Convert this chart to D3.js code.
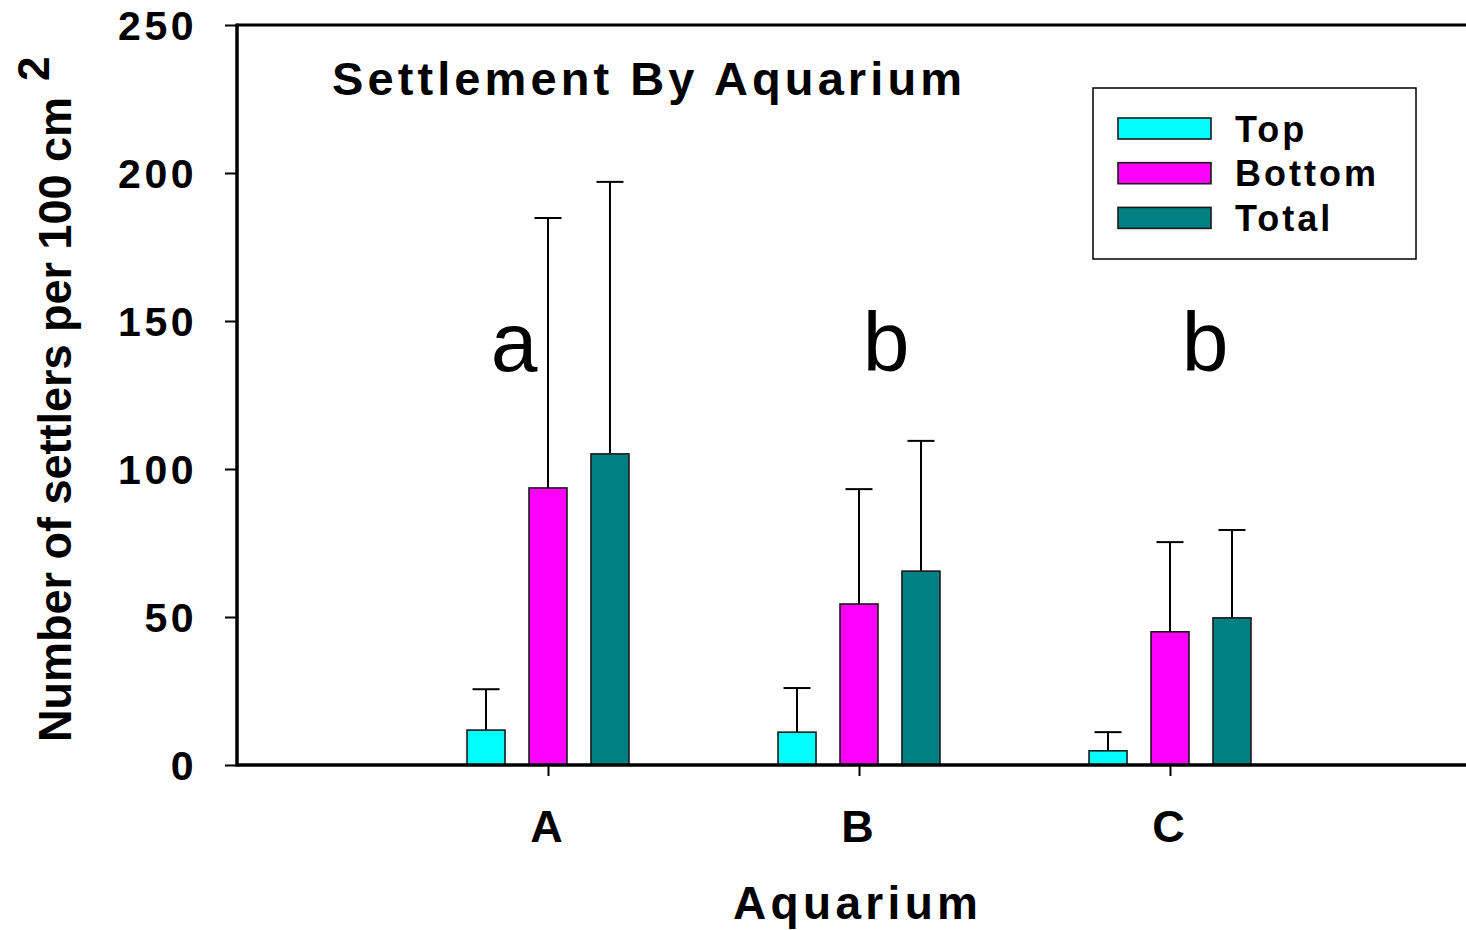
<!DOCTYPE html>
<html>
<head>
<meta charset="utf-8">
<script src="https://cdn.jsdelivr.net/npm/d3@7"></script>
<style>
  html, body { margin: 0; padding: 0; background: #fff; }
  svg { display: block; font-family: "Liberation Sans", Arial, sans-serif; }
</style>
</head>
<body>
<svg id="chart" width="1466" height="930"></svg>
<script>
// Settlement per aquarium: mean and upper error (mean + SD)
const categories = ["A", "B", "C"];
const seriesNames = ["Top", "Bottom", "Total"];
const seriesColors = ["#00FFFF", "#FF00FF", "#008080"];
const topMeans = [11.8, 11.1, 4.8];
const topUpper = [25.6, 26.0, 11.1];
const bottomMeans = [93.6, 54.4, 45.0];
const bottomUpper = [184.8, 93.2, 75.3];
const totalMeans = [105.1, 65.5, 49.7];
const totalUpper = [197.0, 109.5, 79.4];
const yTicks = [0, 50, 100, 150, 200, 250];
const groupLetters = ["a", "b", "b"];
const letterOffsets = [-34, 27, 35];

const svg = d3.select("#chart");
const plotLeft = 237, plotRight = 1481, plotTop = 25, plotBottom = 765;

const x = d3.scalePoint().domain(categories).range([plotLeft, plotRight]).padding(1);
const inner = d3.scaleBand().domain(seriesNames).range([-93, 93])
  .paddingInner(0.387).paddingOuter(0.194);
const y = d3.scaleLinear().domain([0, 250]).range([plotBottom, plotTop]);

const means = [topMeans, bottomMeans, totalMeans];
const uppers = [topUpper, bottomUpper, totalUpper];
const rows = [];
seriesNames.forEach((s, si) => {
  categories.forEach((c, ci) => {
    rows.push({ series: s, si, cat: c, mean: means[si][ci], upper: uppers[si][ci] });
  });
});

// error bars (upper only)
const eb = svg.append("g");
rows.forEach(d => {
  const cx = x(d.cat) + inner(d.series) + inner.bandwidth() / 2;
  eb.append("line").attr("x1", cx).attr("x2", cx)
    .attr("y1", y(d.mean)).attr("y2", y(d.upper))
    .attr("stroke", "#000").attr("stroke-width", 2);
  eb.append("line").attr("x1", cx - 13.5).attr("x2", cx + 13.5)
    .attr("y1", y(d.upper)).attr("y2", y(d.upper))
    .attr("stroke", "#000").attr("stroke-width", 2);
});

// bars
svg.append("g").selectAll("rect").data(rows).join("rect")
  .attr("x", d => x(d.cat) + inner(d.series))
  .attr("width", inner.bandwidth())
  .attr("y", d => y(d.mean))
  .attr("height", d => y(0) - y(d.mean))
  .attr("fill", d => seriesColors[d.si])
  .attr("stroke", "#1a1a1a").attr("stroke-width", 1.6);

// frame
svg.append("line").attr("x1", plotLeft).attr("x2", plotRight).attr("y1", plotTop).attr("y2", plotTop)
  .attr("stroke", "#000").attr("stroke-width", 3);
svg.append("line").attr("x1", plotRight).attr("x2", plotRight).attr("y1", plotTop).attr("y2", plotBottom)
  .attr("stroke", "#000").attr("stroke-width", 3);

// y axis
const yAxis = svg.append("g").attr("transform", `translate(${plotLeft},0)`)
  .call(d3.axisLeft(y).tickValues(yTicks).tickSize(12).tickPadding(28).tickFormat(d3.format("d")));
yAxis.select(".domain").attr("stroke-width", 3.5).attr("d", `M0,${plotTop - 1.5}V${plotBottom + 1.5}`);
yAxis.selectAll(".tick line").attr("stroke-width", 2);
yAxis.selectAll(".tick text")
  .attr("font-size", 41).attr("font-weight", "bold").attr("fill", "#000")
  .attr("letter-spacing", 3.5).attr("dy", "0.36em")
  .attr("font-family", "Liberation Sans, Arial, sans-serif");

// x axis
const xAxis = svg.append("g").attr("transform", `translate(0,${plotBottom})`)
  .call(d3.axisBottom(x).tickSize(11).tickPadding(0));
xAxis.select(".domain").attr("stroke-width", 3.5).attr("d", `M${plotLeft},0H${plotRight}`);
xAxis.selectAll(".tick line").attr("stroke-width", 2);
xAxis.selectAll(".tick text")
  .attr("font-size", 45).attr("font-weight", "bold").attr("fill", "#000")
  .attr("x", -2).attr("y", 77).attr("dy", 0)
  .attr("font-family", "Liberation Sans, Arial, sans-serif");

// axis titles
svg.append("text").attr("x", 733).attr("y", 919)
  .attr("font-size", 46).attr("font-weight", "bold")
  .attr("textLength", 245).attr("lengthAdjust", "spacing")
  .text("Aquarium");

const yt = svg.append("text")
  .attr("transform", "translate(71,742) rotate(-90)")
  .attr("font-size", 47).attr("font-weight", "bold");
yt.append("tspan").attr("textLength", 645).attr("lengthAdjust", "spacingAndGlyphs")
  .text("Number of settlers per 100 cm");
yt.append("tspan").attr("dx", 16).attr("dy", -22).attr("font-size", 44).text("2");

// chart title
svg.append("text").attr("x", 332).attr("y", 95)
  .attr("font-size", 47).attr("font-weight", "bold")
  .attr("textLength", 630).attr("lengthAdjust", "spacing")
  .text("Settlement By Aquarium");

// significance letters
svg.append("g").selectAll("text").data(categories).join("text")
  .attr("x", (c, i) => x(c) + letterOffsets[i])
  .attr("y", y(133))
  .attr("text-anchor", "middle")
  .attr("font-size", 84)
  .text((c, i) => groupLetters[i]);

// legend
const lg = svg.append("g");
lg.append("rect").attr("x", 1093).attr("y", 88).attr("width", 323).attr("height", 171)
  .attr("fill", "#fff").attr("stroke", "#000").attr("stroke-width", 1.5);
seriesNames.forEach((s, i) => {
  const yy = 118 + i * 44.7;
  lg.append("rect").attr("x", 1118).attr("y", yy).attr("width", 93).attr("height", 21)
    .attr("fill", seriesColors[i]).attr("stroke", "#1a1a1a").attr("stroke-width", 1.6);
  lg.append("text").attr("x", 1235).attr("y", yy + 23.5)
    .attr("font-size", 36).attr("font-weight", "bold").attr("letter-spacing", 3)
    .text(s);
});
</script>
</body>
</html>
